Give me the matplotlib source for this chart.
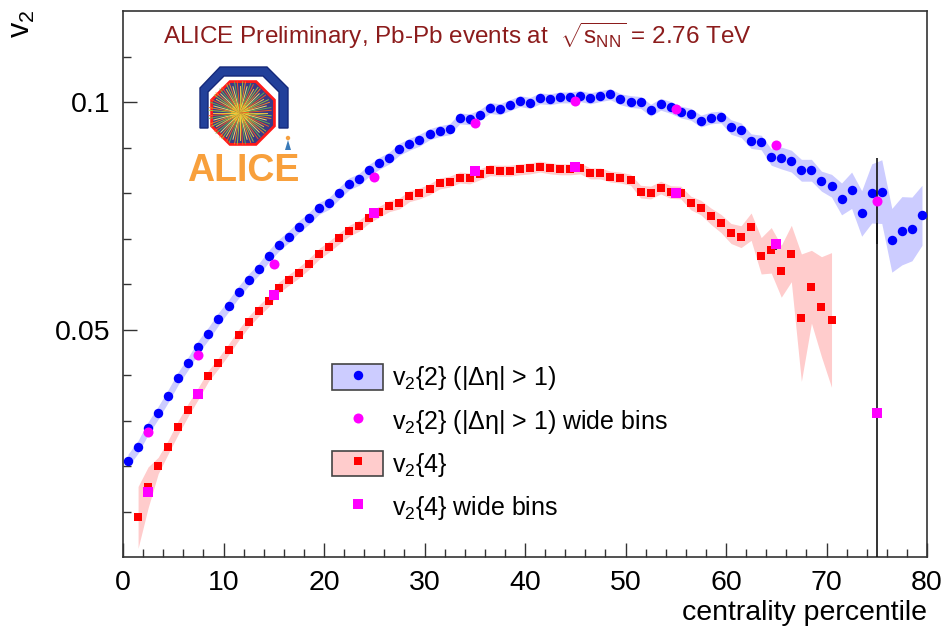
import numpy as np
import matplotlib
matplotlib.use("Agg")
import matplotlib.pyplot as plt
from matplotlib import font_manager
from matplotlib.patches import Patch, Polygon, Circle
from matplotlib.lines import Line2D

# ---------------- data ----------------
v22_x = [i + 0.5 for i in range(80)]
v22_y = [0.0212, 0.0242, 0.0283, 0.0317, 0.0354, 0.0393, 0.0426, 0.0462, 0.0491, 0.0523,
         0.0552, 0.0582, 0.0609, 0.0632, 0.0661, 0.0685, 0.0704, 0.0726, 0.0744, 0.0766,
         0.0777, 0.0799, 0.0820, 0.0830, 0.0850, 0.0865, 0.0877, 0.0896, 0.0907, 0.0916,
         0.0929, 0.0936, 0.0940, 0.0964, 0.0962, 0.0971, 0.0987, 0.0984, 0.0993, 0.1002,
         0.0998, 0.1008, 0.1006, 0.1010, 0.1010, 0.1013, 0.1008, 0.1013, 0.1017, 0.1006,
         0.1001, 0.0999, 0.0982, 0.0995, 0.0988, 0.0978, 0.0973, 0.0958, 0.0965, 0.0967,
         0.0945, 0.0938, 0.0914, 0.0911, 0.0879, 0.0877, 0.0870, 0.0850, 0.0850, 0.0826,
         0.0816, 0.0787, 0.0806, 0.0755, 0.0799, 0.0803, 0.0696, 0.0717, 0.0721, 0.0751]
v22_sys = [0.0014] * 10 + [0.0013] * 20 + [0.0012] * 20 + [0.0013] * 10 + \
          [0.0016, 0.0016, 0.0016, 0.0016, 0.0018, 0.0024, 0.0024, 0.0024, 0.0024, 0.0022,
           0.0025, 0.0035, 0.0040, 0.0050, 0.0065, 0.0070, 0.0070, 0.0075, 0.0070, 0.0066]

v24_x = [i + 1.5 for i in range(70)]
v24_y = [0.0087, 0.0153, 0.0201, 0.0242, 0.0285, 0.0324, 0.0360, 0.0398, 0.0426, 0.0456,
         0.0488, 0.0517, 0.0541, 0.0562, 0.0592, 0.0609, 0.0625, 0.0644, 0.0666, 0.0682,
         0.0700, 0.0717, 0.0728, 0.0746, 0.0759, 0.0771, 0.0777, 0.0793, 0.0799, 0.0808,
         0.0821, 0.0825, 0.0834, 0.0832, 0.0841, 0.0850, 0.0849, 0.0849, 0.0852, 0.0854,
         0.0858, 0.0854, 0.0852, 0.0852, 0.0854, 0.0843, 0.0843, 0.0836, 0.0834, 0.0829,
         0.0803, 0.0801, 0.0812, 0.0802, 0.0801, 0.0778, 0.0768, 0.0749, 0.0733, 0.0711,
         0.0704, 0.0726, 0.0662, 0.0674, 0.0628, 0.0667, 0.0526, 0.0594, 0.0550, 0.0521]
v24_sys = [0.0068, 0.0045, 0.0018, 0.0015, 0.0015, 0.0014, 0.0013] + [0.0012] * 43 + \
          [0.0014, 0.0014, 0.0014, 0.0014, 0.0014, 0.0015, 0.0016, 0.0018, 0.0020, 0.0022,
           0.0024, 0.0030, 0.0040, 0.0050, 0.0057, 0.0062, 0.0140, 0.0080, 0.0110, 0.0148]

wide_x = [2.5, 7.5, 15, 25, 35, 45, 55, 65, 75]
wide22_y = [0.0274, 0.0445, 0.0645, 0.0836, 0.0954, 0.1002, 0.0984, 0.0905, 0.0782]
wide22_err = [0.0002, 0.0002, 0.0002, 0.0002, 0.0002, 0.0002, 0.0003, 0.0004, 0.0095]
wide24_y = [0.0142, 0.0358, 0.0576, 0.0755, 0.0848, 0.0858, 0.0799, 0.0687, 0.0316]
wide24_err = [0.0003, 0.0002, 0.0002, 0.0002, 0.0003, 0.0004, 0.0006, 0.0012, 0.0417]

x_ticks = [0, 10, 20, 30, 40, 50, 60, 70, 80]
y_ticks = [0.05, 0.1]
y_tick_labels = ["0.05", "0.1"]

labels = ["v$_2${2} (|Δη| > 1)", "v$_2${2} (|Δη| > 1) wide bins",
          "v$_2${4}", "v$_2${4} wide bins"]

# ---------------- fonts ----------------
def has_font(name):
    try:
        font_manager.findfont(name, fallback_to_default=False)
        return True
    except Exception:
        return False

REG = "Liberation Sans" if has_font("Liberation Sans") else "DejaVu Sans"

plt.rcParams["font.family"] = [REG, "DejaVu Sans"]
plt.rcParams["mathtext.fontset"] = "custom"
plt.rcParams["mathtext.rm"] = REG
plt.rcParams["mathtext.it"] = REG + ":italic"
plt.rcParams["mathtext.bf"] = REG + ":bold"

W, H = 947, 640
fig = plt.figure(figsize=(W / 100, H / 100), dpi=100)
ax = fig.add_axes([123 / W, (H - 557) / H, 804 / W, 546 / H])

blue = "#0000ff"
red = "#ff0000"
mag = "#ff00ff"
blue_band = "#ccccff"
red_band = "#ffcccc"

x22 = np.array(v22_x); y22 = np.array(v22_y); s22 = np.array(v22_sys)
x24 = np.array(v24_x); y24 = np.array(v24_y); s24 = np.array(v24_sys)

ax.fill_between(x22, y22 - s22, y22 + s22, color=blue_band, lw=0, zorder=1)
ax.fill_between(x24, y24 - s24, y24 + s24, color=red_band, lw=0, zorder=1)
ax.plot(x22, y22, "o", color=blue, ms=6.8, mew=0, zorder=3)
ax.plot(x24, y24, "s", color=red, ms=5.8, mew=0, zorder=3)

ax.errorbar(wide_x, wide24_y, yerr=wide24_err, fmt="s", color=mag, ms=7.5, mew=0,
            ecolor="#111111", elinewidth=1.2, capsize=3.5, capthick=1.2, zorder=4)
ax.errorbar(wide_x, wide22_y, yerr=wide22_err, fmt="o", color=mag,
            ms=7.2, mew=0, ecolor="#111111", elinewidth=1.2, capsize=3.5, capthick=1.2,
            zorder=4)

ax.set_xlim(0, 80)
ax.set_ylim(0.0, 0.12)
ax.set_xticks(x_ticks)
ax.set_xticks(np.arange(0, 81, 2), minor=True)
ax.set_yticks(y_ticks)
ax.set_yticklabels(y_tick_labels)
ax.set_yticks(np.arange(0.01, 0.12, 0.01), minor=True)
ax.tick_params(which="both", direction="in", top=False, right=False, color="#333333",
               width=1.0)
ax.tick_params(which="major", length=10, pad=9)
ax.tick_params(which="minor", length=5.5)
for lab in ax.get_xticklabels() + ax.get_yticklabels():
    lab.set_fontsize(20.5)
for sp in ax.spines.values():
    sp.set_color("#333333")
    sp.set_linewidth(1.2)

# axis titles
fig.text(927 / W, 1 - 613 / H, "centrality percentile", fontsize=20.5,
         ha="right", va="center")
fig.text(22 / W, 1 - 10 / H, "v$_2$", fontsize=22, rotation=90, ha="center", va="top")

# header
fig.text(163 / W, 1 - 44 / H,
         r"ALICE Preliminary, Pb-Pb events at  $\sqrt{\mathrm{s}_{\mathrm{NN}}}$ = 2.76 TeV",
         color="#8c1c1c", fontsize=17.5, ha="left", va="baseline")

# legend
h1 = (Patch(facecolor=blue_band, edgecolor="#444444", lw=1.2),
      Line2D([], [], marker="o", color=blue, ls="none", ms=6.8, mew=0))
h2 = Line2D([], [], marker="o", color=mag, ls="none", ms=7.2, mew=0)
h3 = (Patch(facecolor=red_band, edgecolor="#444444", lw=1.2),
      Line2D([], [], marker="s", color=red, ls="none", ms=5.8, mew=0))
h4 = Line2D([], [], marker="s", color=mag, ls="none", ms=7.5, mew=0)
leg = ax.legend([h1, h2, h3, h4], labels, loc="upper left",
                bbox_to_anchor=(332 / W, 1 - 364 / H), bbox_transform=fig.transFigure,
                frameon=False, fontsize=18, handlelength=2.05, handleheight=1.2,
                handletextpad=0.36, labelspacing=0.6, borderpad=0, borderaxespad=0)

# ALICE logo (decoration)
lax = fig.add_axes([180 / W, 1 - 190 / H, 125 / W, 128 / H])
lax.set_xlim(180, 305)
lax.set_ylim(190, 62)
lax.axis("off")
arch = [(200, 128), (200, 88), (220, 67), (267, 67), (288, 88), (288, 128),
        (279, 128), (279, 92), (263, 76), (224, 76), (208, 92), (208, 128)]
lax.add_patch(Polygon(arch, closed=True, facecolor="#22409a", edgecolor="#14287a", lw=1))
cx, cy, r = 243, 113, 34
ang = np.deg2rad(22.5 + 45 * np.arange(8))
octo = np.column_stack([cx + r * np.cos(ang), cy + r * np.sin(ang)])
lax.add_patch(Polygon(octo, closed=True, facecolor="#3b3a86", edgecolor="#ff1a1a", lw=2))
ray_cols = ["#ffd23a", "#9ccc3a", "#ff8a1a", "#ffee66", "#66b84a", "#ff5a1a"]
for k, a in enumerate(np.linspace(0, 2 * np.pi, 72, endpoint=False)):
    rr = r * (0.92 if k % 3 else 0.8)
    lax.plot([cx - 3, cx - 3 + rr * np.cos(a)], [cy, cy + rr * np.sin(a)],
             color=ray_cols[k % len(ray_cols)], lw=0.7, alpha=0.9)
lax.add_patch(Circle((cx - 3, cy), 9, facecolor="#ff9a2a", edgecolor="none", alpha=0.8))
lax.add_patch(Circle((cx - 3, cy), 4, facecolor="#ffcf3a", edgecolor="none"))
lax.add_patch(Polygon([(285, 150), (291, 150), (288, 140)], closed=True,
                      facecolor="#3a7ab8", edgecolor="none"))
lax.add_patch(Circle((288, 138), 2.2, facecolor="#f5a040", edgecolor="none"))
lax.text(243, 171, "ALICE", color="#f8a03c", fontsize=27, fontweight="bold",
         ha="center", va="center", family=REG)

fig.savefig("out.png", dpi=100)
